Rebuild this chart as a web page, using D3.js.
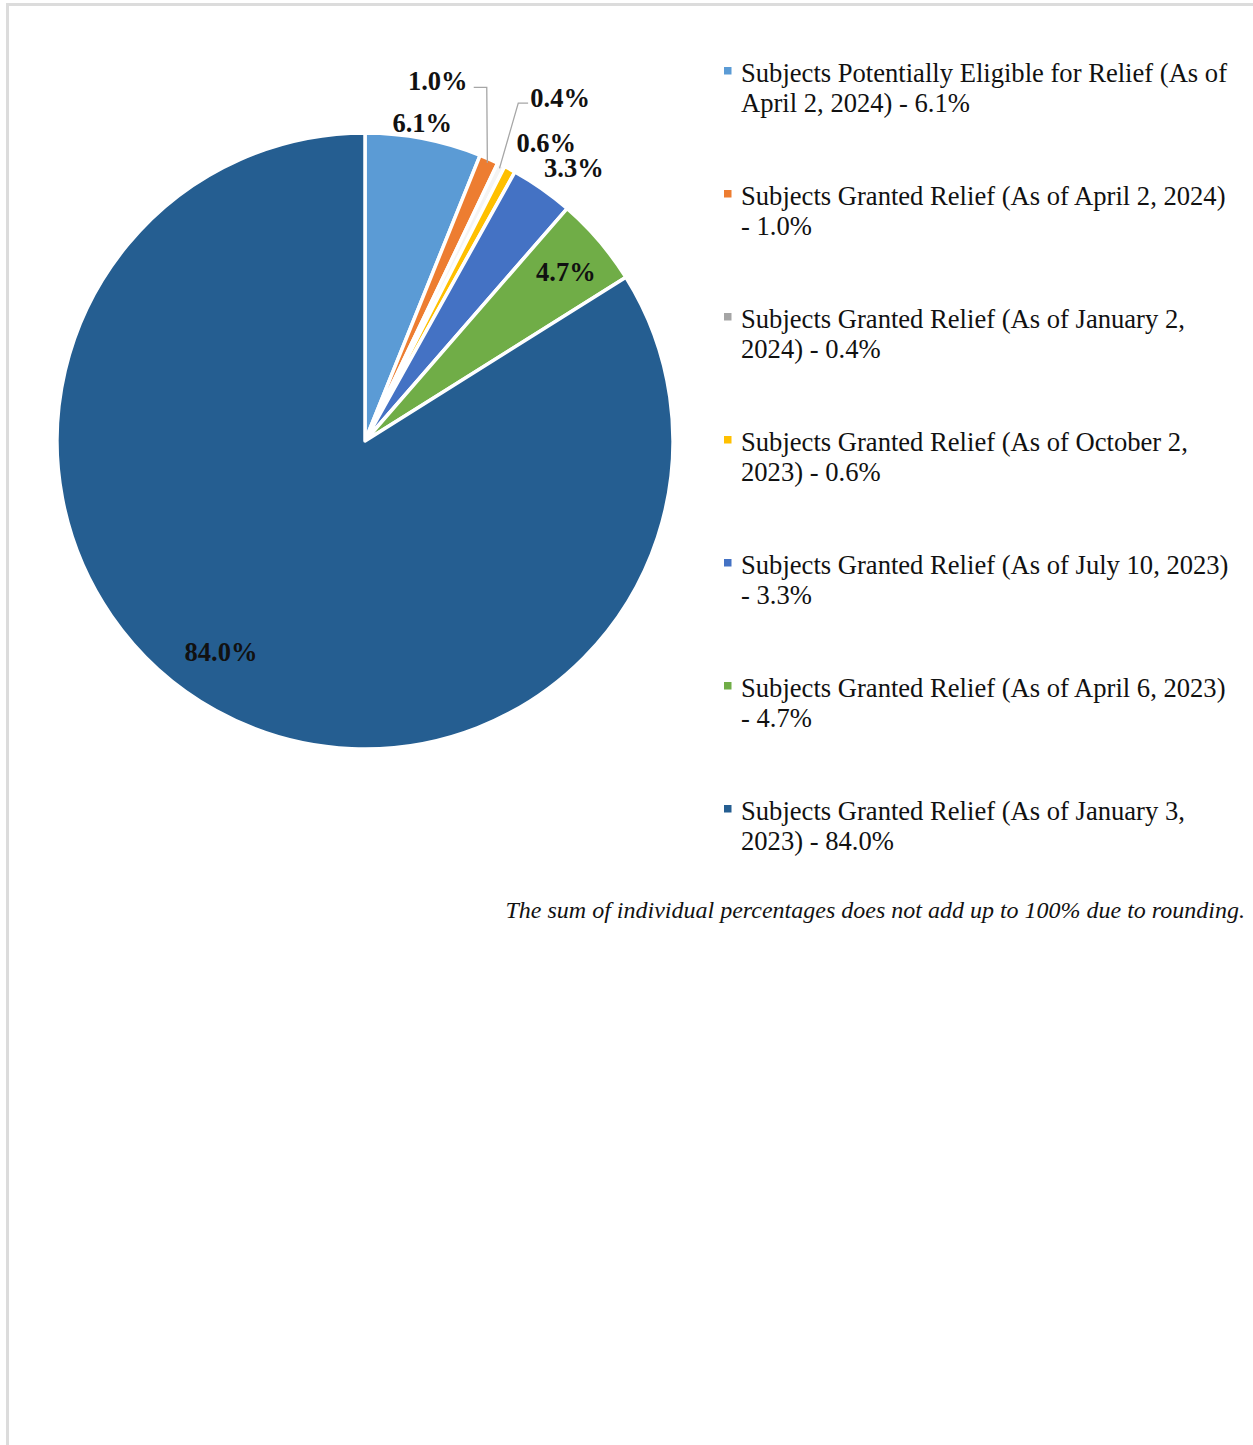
<!DOCTYPE html>
<html>
<head>
<meta charset="utf-8">
<script src="https://cdn.jsdelivr.net/npm/d3@7"></script>
<style>
  body { margin: 0; background: #fff; }
  svg { display: block; }
</style>
</head>
<body>
<script>
const width = 1253;
const height = 1445;

// slice data, clockwise from 12 o'clock
const categories = [
  'Subjects Potentially Eligible for Relief (As of April 2, 2024)',
  'Subjects Granted Relief (As of April 2, 2024)',
  'Subjects Granted Relief (As of January 2, 2024)',
  'Subjects Granted Relief (As of October 2, 2023)',
  'Subjects Granted Relief (As of July 10, 2023)',
  'Subjects Granted Relief (As of April 6, 2023)',
  'Subjects Granted Relief (As of January 3, 2023)'
];
const values = [6.1, 1.0, 0.4, 0.6, 3.3, 4.7, 84.0];
const colors = ['#5b9bd5', '#ed7d31', '#a5a5a5', '#ffc000', '#4472c4', '#70ad47', '#255e91'];
// the thin grey wedge is washed out by the white borders in the original
const sliceColors = ['#5b9bd5', '#ed7d31', '#f4f4f4', '#ffc000', '#4472c4', '#70ad47', '#255e91'];

// legend lines as they wrap in the original
const legendLines = [
  ['Subjects Potentially Eligible for Relief (As of', 'April 2, 2024) - 6.1%'],
  ['Subjects Granted Relief (As of April 2, 2024)', '- 1.0%'],
  ['Subjects Granted Relief (As of January 2,', '2024) - 0.4%'],
  ['Subjects Granted Relief (As of October 2,', '2023) - 0.6%'],
  ['Subjects Granted Relief (As of July 10, 2023)', '- 3.3%'],
  ['Subjects Granted Relief (As of April 6, 2023)', '- 4.7%'],
  ['Subjects Granted Relief (As of January 3,', '2023) - 84.0%']
];
const note = 'The sum of individual percentages does not add up to 100% due to rounding.';

// label placement (polar, degrees clockwise from top)
const labelPolar = [[323, 10.2], [368, 11.4], [395, 29.6], [349, 31.3], [344, 37.4], [263, 49.8], [255, 214.4]];
const leaderElbow = [null, [374, 19.0], [371, 24.4], null, null, null, null];

const cx = 365, cy = 441, r = 308;
const serif = '"Liberation Serif", "Times New Roman", serif';

const svg = d3.select('body').append('svg')
  .attr('width', width)
  .attr('height', height);

svg.append('rect')
  .attr('x', 7.5).attr('y', 4.5)
  .attr('width', width + 20).attr('height', height + 20)
  .attr('fill', 'none')
  .attr('stroke', '#dcdcdc')
  .attr('stroke-width', 3);

const pie = d3.pie().sort(null).value(d => d);
const arcs = pie(values);
const arc = d3.arc().innerRadius(0).outerRadius(r);

const g = svg.append('g').attr('transform', `translate(${cx},${cy})`);

g.selectAll('path')
  .data(arcs)
  .join('path')
  .attr('d', arc)
  .attr('fill', (d, i) => sliceColors[i])
  .attr('stroke', '#fff')
  .attr('stroke-width', 3.5)
  .attr('stroke-linejoin', 'round');

const polar = (rad, deg) => {
  const a = deg * Math.PI / 180;
  return [rad * Math.sin(a), -rad * Math.cos(a)];
};

// leader lines for the thin slices
arcs.forEach((d, i) => {
  if (!leaderElbow[i]) return;
  const mid = (d.startAngle + d.endAngle) / 2 * 180 / Math.PI;
  const p0 = polar(r - 4, mid);
  const p1 = polar(leaderElbow[i][0], leaderElbow[i][1]);
  const lp = polar(labelPolar[i][0], labelPolar[i][1]);
  const p2 = [p1[0] < lp[0] ? lp[0] - 32 : lp[0] + 36, p1[1]];
  g.append('polyline')
    .attr('points', [p0, p1, p2].map(p => p.join(',')).join(' '))
    .attr('fill', 'none')
    .attr('stroke', '#a6a6a6')
    .attr('stroke-width', 1.3);
});

g.selectAll('text.lbl')
  .data(arcs)
  .join('text')
  .attr('class', 'lbl')
  .attr('x', (d, i) => polar(...labelPolar[i])[0])
  .attr('y', (d, i) => polar(...labelPolar[i])[1])
  .attr('dy', '0.35em')
  .attr('text-anchor', 'middle')
  .attr('font-family', serif)
  .attr('font-weight', 'bold')
  .attr('font-size', 26.5)
  .attr('fill', '#111')
  .text(d => d.data.toFixed(1) + '%');

// legend
const legend = svg.append('g').attr('transform', 'translate(724,0)');
const item = legend.selectAll('g')
  .data(legendLines)
  .join('g')
  .attr('transform', (d, i) => `translate(0,${82 + i * 123})`);

item.append('rect')
  .attr('x', 0).attr('y', -15)
  .attr('width', 7.5).attr('height', 7.5)
  .attr('fill', (d, i) => colors[i]);

item.append('text')
  .attr('font-family', serif)
  .attr('font-size', 26.6)
  .attr('fill', '#111')
  .selectAll('tspan')
  .data(d => d)
  .join('tspan')
  .attr('x', 17)
  .attr('y', (d, i) => i * 30)
  .text(d => d);

svg.append('text')
  .attr('x', 1245)
  .attr('y', 918)
  .attr('text-anchor', 'end')
  .attr('font-family', serif)
  .attr('font-style', 'italic')
  .attr('font-size', 24)
  .attr('fill', '#111')
  .text(note);
</script>
</body>
</html>
